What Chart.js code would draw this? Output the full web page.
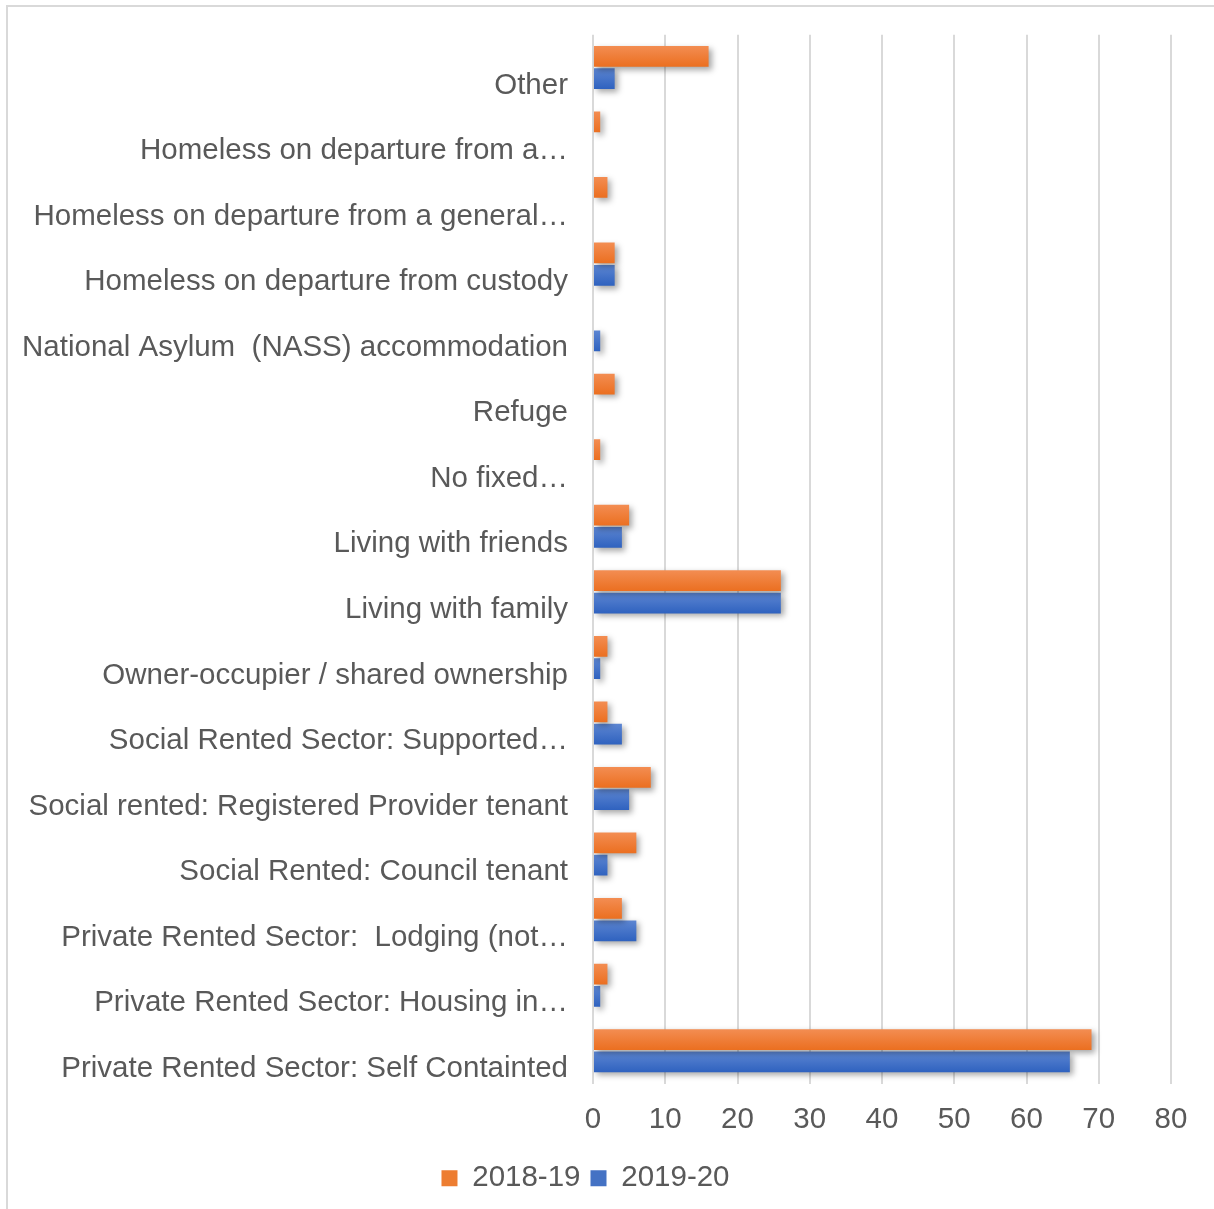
<!DOCTYPE html>
<html>
<head>
<meta charset="utf-8">
<script src="https://cdn.jsdelivr.net/npm/chart.js@4"></script>
<style>
    html, body { margin: 0; padding: 0; background: #fff; }
    #frame {
        position: absolute; left: 6px; top: 5px; width: 1300px; height: 1300px;
        border: 2px solid #d9d9d9; box-sizing: border-box;
    }
    #wrap { position: absolute; left: 0; top: 0; width: 1214px; height: 1209px; }
</style>
</head>
<body>
<div id="frame"></div>
<div id="wrap"><canvas id="grafico"></canvas></div>
<script>
const categorias = [
    'Other',
    'Homeless on departure from a\u2026',
    'Homeless on departure from a general\u2026',
    'Homeless on departure from custody',
    'National Asylum  (NASS) accommodation',
    'Refuge',
    'No fixed\u2026',
    'Living with friends',
    'Living with family',
    'Owner-occupier / shared ownership',
    'Social Rented Sector: Supported\u2026',
    'Social rented: Registered Provider tenant',
    'Social Rented: Council tenant',
    'Private Rented Sector:  Lodging (not\u2026',
    'Private Rented Sector: Housing in\u2026',
    'Private Rented Sector: Self Containted'
];
const valores1819 = [16, 1, 2, 3, 0, 3, 1, 5, 26, 2, 2, 8, 6, 4, 2, 69];
const valores1920 = [3, 0, 0, 3, 1, 0, 0, 4, 26, 1, 4, 5, 2, 6, 1, 66];
const ticksX = [0, 10, 20, 30, 40, 50, 60, 70, 80];

const corTexto = '#595959';
const fonte = "'Liberation Sans', Arial, sans-serif";
const tamFonte = 29.5;

// degradê (claro em cima) para cada série
const degrades = [
    ['#F38D52', '#EB6F20'],
    ['#5D86D2', '#2F62BF']
];

// sombra + degradê nas barras, como no Excel
const estiloBarras = {
    id: 'estiloBarras',
    beforeDatasetsDraw(chart) {
        const ctx = chart.ctx;
        chart.data.datasets.forEach((ds, i) => {
            const cores = degrades[i];
            chart.getDatasetMeta(i).data.forEach(el => {
                const g = ctx.createLinearGradient(0, el.y - el.height / 2, 0, el.y + el.height / 2);
                g.addColorStop(0, cores[0]);
                g.addColorStop(1, cores[1]);
                el.options = Object.assign({}, el.options, { backgroundColor: g });
            });
        });
        ctx.save();
        ctx.shadowColor = 'rgba(0,0,0,0.35)';
        ctx.shadowBlur = 6;
        ctx.shadowOffsetX = 3;
        ctx.shadowOffsetY = 3;
    },
    afterDatasetsDraw(chart) {
        chart.ctx.restore();
    }
};

new Chart(document.getElementById('grafico'), {
    type: 'bar',
    data: {
        labels: categorias,
        datasets: [
            {
                label: '2018-19',
                data: valores1819,
                backgroundColor: '#ED7D31'
            },
            {
                label: '2019-20',
                data: valores1920,
                backgroundColor: '#4472C4'
            }
        ]
    },
    options: {
        indexAxis: 'y',
        responsive: true,
        maintainAspectRatio: false,
        animation: false,
        categoryPercentage: 0.68,
        barPercentage: 0.93,
        layout: {
            padding: { top: 33, right: 43, bottom: 6, left: 0 }
        },
        plugins: {
            legend: {
                position: 'bottom',
                labels: {
                    color: corTexto,
                    font: { family: fonte, size: tamFonte },
                    boxWidth: 16,
                    boxHeight: 16,
                    padding: 10
                }
            },
            tooltip: { enabled: false }
        },
        scales: {
            x: {
                min: 0,
                max: 80,
                afterBuildTicks: (s) => { s.ticks = ticksX.map(v => ({ value: v })); },
                afterFit: (s) => { s.height = 70; },
                grid: { color: '#d9d9d9', lineWidth: 2, drawTicks: false },
                border: { display: false },
                ticks: {
                    color: corTexto,
                    font: { family: fonte, size: tamFonte },
                    padding: 19
                }
            },
            y: {
                afterFit: (s) => { s.width = 593; },
                grid: { display: false },
                border: { display: false },
                ticks: {
                    color: corTexto,
                    font: { family: fonte, size: tamFonte },
                    padding: 17,
                    labelOffset: 18,
                    autoSkip: false
                }
            }
        }
    },
    plugins: [estiloBarras]
});
</script>
</body>
</html>
